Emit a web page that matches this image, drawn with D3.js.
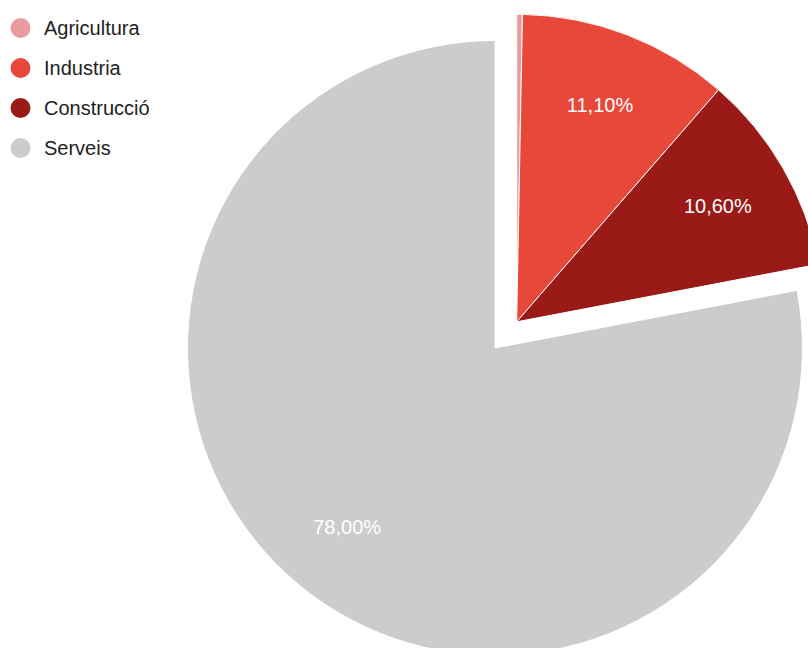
<!DOCTYPE html>
<html>
<head>
<meta charset="utf-8">
<script src="https://cdn.jsdelivr.net/npm/d3@7"></script>
<style>
  html, body { margin: 0; padding: 0; background: #fff; }
  svg { display: block; }
</style>
</head>
<body>
<svg id="chart" width="808" height="648"></svg>
<script>
const categories = ["Agricultura", "Industria", "Construcció", "Serveis"];
const values = [0.30, 11.10, 10.60, 78.00];
const labels = ["0,30%", "11,10%", "10,60%", "78,00%"];
const colors = ["#EB9B9D", "#E84839", "#991A16", "#CCCCCC"];
const exploded = [true, true, true, false];

const W = 808, H = 648;
const cx = 495, cy = 348, r = 307.5;
const explodeDist = 34;
const labelR = 232;

const svg = d3.select("#chart");
const data = categories.map((c, i) => ({ name: c, value: values[i], label: labels[i], color: colors[i], ex: exploded[i] }));

const pie = d3.pie().sort(null).value(d => d.value);
const arcs = pie(data);
const arc = d3.arc().innerRadius(0).outerRadius(r);

// explode the group of exploded slices along the mid-angle of the group
const exArcs = arcs.filter(a => a.data.ex);
const gStart = d3.min(exArcs, a => a.startAngle), gEnd = d3.max(exArcs, a => a.endAngle);
const gMid = (gStart + gEnd) / 2;
const dx = explodeDist * Math.sin(gMid), dy = -explodeDist * Math.cos(gMid);

const g = svg.append("g").attr("transform", `translate(${cx},${cy})`);

const slices = g.selectAll("g.slice").data(arcs).enter().append("g")
  .attr("class", "slice")
  .attr("transform", d => d.data.ex ? `translate(${dx},${dy})` : null);

slices.append("path")
  .attr("d", arc)
  .attr("fill", d => d.data.color)
  .attr("stroke", "#fff")
  .attr("stroke-width", 1);

slices.filter(d => (d.endAngle - d.startAngle) > 0.2).append("text")
  .attr("x", d => labelR * Math.sin((d.startAngle + d.endAngle) / 2))
  .attr("y", d => -labelR * Math.cos((d.startAngle + d.endAngle) / 2))
  .attr("text-anchor", "middle")
  .attr("dominant-baseline", "central")
  .attr("font-family", "Liberation Sans, Arial, sans-serif")
  .attr("font-size", 20)
  .attr("fill", "#fff")
  .text(d => d.data.label);

// legend
const legend = svg.append("g");
const items = legend.selectAll("g").data(data).enter().append("g")
  .attr("transform", (d, i) => `translate(20.5,${28 + i * 40})`);
items.append("circle").attr("r", 10).attr("fill", d => d.color);
items.append("text")
  .attr("x", 23.5)
  .attr("y", 0)
  .attr("dominant-baseline", "central")
  .attr("font-family", "Liberation Sans, Arial, sans-serif")
  .attr("font-size", 20)
  .attr("fill", "#222")
  .text(d => d.name);
</script>
</body>
</html>
